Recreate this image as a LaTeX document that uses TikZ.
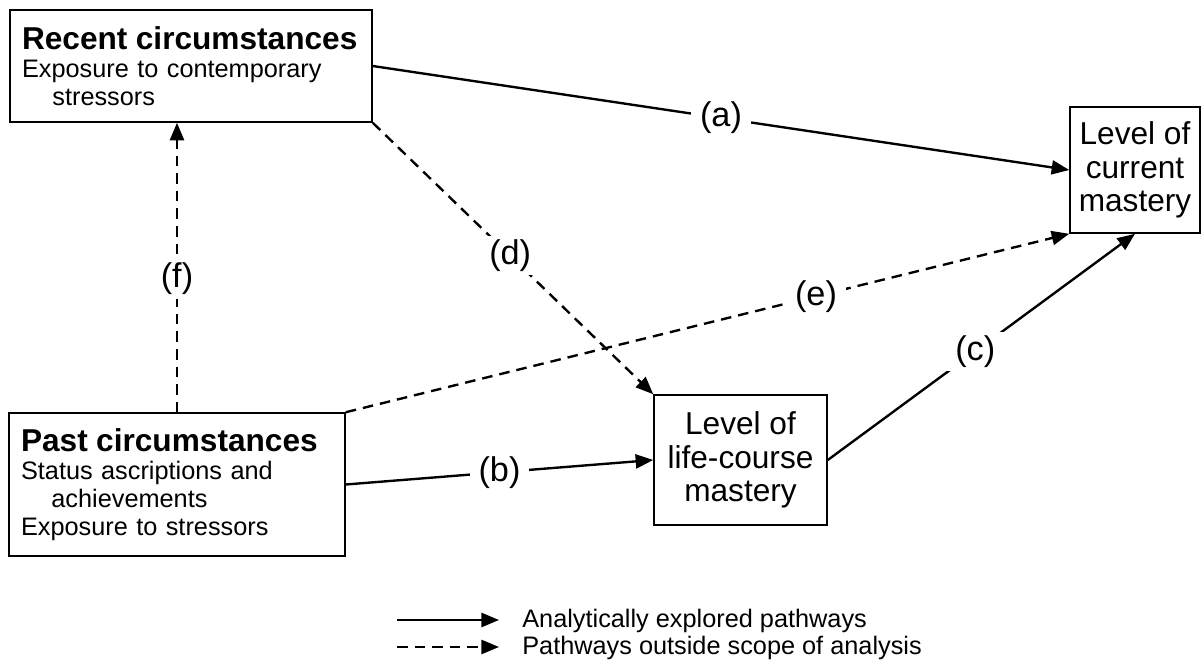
\documentclass[tikz,border=0pt]{standalone}
\usepackage{fontspec}
\setmainfont{Liberation Sans}
\usetikzlibrary{arrows.meta,positioning,calc}

\begin{document}
\begin{tikzpicture}[x=0.02cm, y=-0.02cm,
    box/.style={rectangle, draw=black, line width=0.9pt, inner ysep=0pt, inner xsep=0.24cm, font=\fontsize{14.4}{16}\selectfont},
    sidebox/.style={box, align=left},
    endbox/.style={box, align=center, inner xsep=0pt, font=\fontsize{18}{19}\selectfont},
    arrow/.style={-{Triangle[length=10pt,width=8pt]}, line width=1.35pt},
    outside/.style={arrow, dash pattern=on 6pt off 4pt},
    lbl/.style={fill=white, inner xsep=5pt, inner ysep=2pt, font=\fontsize{19.5}{21}\selectfont},
    legtext/.style={anchor=west, inner sep=0pt, font=\fontsize{14.4}{16}\selectfont}
]
\useasboundingbox (0,0) rectangle (1204,662);

% Circumstances
\node[sidebox, text width=6.76cm, minimum height=2.24cm] (recent) at (191,66)
    {{\fontsize{18}{19}\bfseries Recent circumstances}\\Exposure to contemporary\\\hspace*{1.2em}stressors};
\node[sidebox, text width=6.24cm, minimum height=2.86cm] (past) at (177,484.5)
    {{\fontsize{18}{19}\bfseries Past circumstances}\\Status ascriptions and\\\hspace*{1.2em}achievements\\Exposure to stressors};

% Mastery
\node[endbox, minimum width=2.6cm, minimum height=2.52cm] (current) at (1135,170) {Level of\\current\\mastery};
\node[endbox, minimum width=3.46cm, minimum height=2.6cm] (life) at (740.5,460) {Level of\\life-course\\mastery};

% Analytically explored pathways
\draw[arrow] (recent.east) -- node[lbl, pos=0.5] {(a)} (current.west);
\draw[arrow] (past.east) -- node[lbl, pos=0.5] {(b)} (life.west);
\draw[arrow] (life.east) -- node[lbl, pos=0.48] {(c)} (current.south);

% Pathways outside scope
\draw[outside] (recent.south east) -- node[lbl, pos=0.49] {(d)} (life.north west);
\draw[outside] (past.north east) -- node[lbl, pos=0.65] {(e)} (current.south west);
\draw[outside] (past.north) -- node[lbl, pos=0.46] {(f)} (past.north |- recent.south);

% Legend
\coordinate (solidA) at (397,620);
\coordinate (solidB) at (499,620);
\coordinate (dashA) at (397,647);
\coordinate (dashB) at (499,647);
\draw[arrow] (solidA) -- (solidB);
\draw[outside] (dashA) -- (dashB);
\node[legtext] (solidtxt) at (522,621) {Analytically explored pathways};
\node[legtext] (dashtxt) at (522,648) {Pathways outside scope of analysis};
\end{tikzpicture}
\end{document}
